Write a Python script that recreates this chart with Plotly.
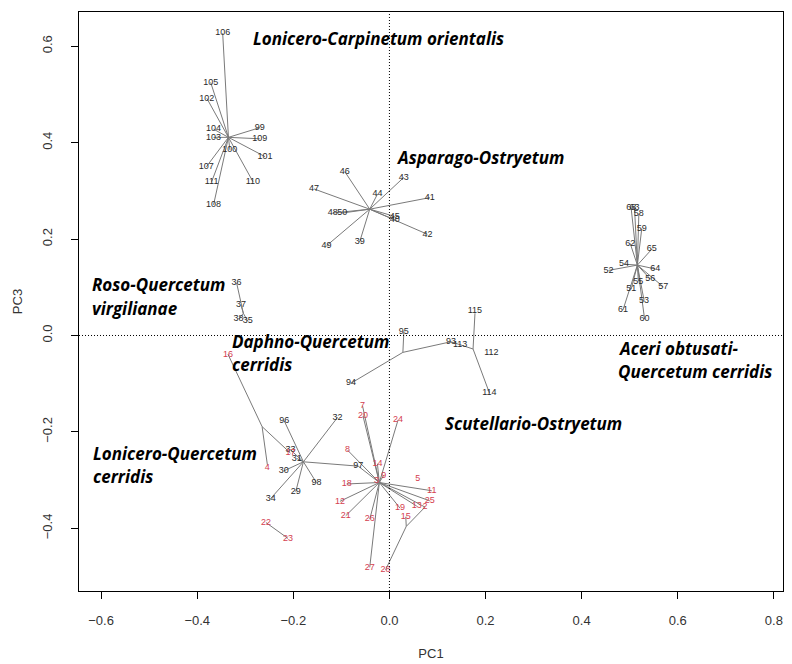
import plotly.graph_objects as go

# ---------------- data ----------------
# Lonicero-Carpinetum orientalis (black spider)
g1_center = (-0.335, 0.411)
g1_labels = ["106", "105", "102", "104", "103", "99", "109", "100", "101", "107", "111", "110", "108"]
g1_x = [-0.347, -0.372, -0.380, -0.366, -0.366, -0.270, -0.270, -0.332, -0.259, -0.381, -0.370, -0.284, -0.366]
g1_y = [0.627, 0.525, 0.492, 0.428, 0.411, 0.431, 0.408, 0.385, 0.371, 0.350, 0.319, 0.319, 0.271]

# Asparago-Ostryetum
g2_center = (-0.041, 0.262)
g2_labels = ["46", "43", "47", "44", "41", "48", "50", "45", "40", "42", "49", "39"]
g2_x = [-0.093, 0.030, -0.157, -0.025, 0.084, -0.118, -0.098, 0.011, 0.011, 0.079, -0.131, -0.062]
g2_y = [0.340, 0.328, 0.304, 0.293, 0.286, 0.254, 0.254, 0.247, 0.240, 0.210, 0.186, 0.194]

# Aceri obtusati-Quercetum cerridis
g3_center = (0.516, 0.146)
g3_labels = ["68", "63", "58", "59", "62", "65", "54", "52", "64", "56", "55", "57", "51", "53", "61", "60"]
g3_x = [0.503, 0.510, 0.519, 0.525, 0.501, 0.546, 0.488, 0.456, 0.553, 0.543, 0.518, 0.570, 0.503, 0.530, 0.486, 0.531]
g3_y = [0.264, 0.266, 0.252, 0.221, 0.191, 0.179, 0.148, 0.135, 0.138, 0.117, 0.112, 0.101, 0.096, 0.072, 0.053, 0.034]

# Roso-Quercetum virgilianae
g4_center = (-0.304, 0.046)
g4_labels = ["36", "37", "38", "35"]
g4_x = [-0.318, -0.309, -0.314, -0.295]
g4_y = [0.109, 0.063, 0.034, 0.030]

# Lonicero-Quercetum cerridis (black)
g6_center = (-0.179, -0.262)
g6_labels = ["96", "33", "31", "30", "98", "29", "34", "32", "97"]
g6_x = [-0.219, -0.206, -0.193, -0.220, -0.152, -0.195, -0.247, -0.108, -0.065]
g6_y = [-0.177, -0.237, -0.255, -0.281, -0.305, -0.324, -0.338, -0.170, -0.271]

# red group spokes
r_center = (-0.021, -0.305)
r_labels = ["7", "20", "24", "8", "14", "9", "18", "12", "21", "26", "27", "19", "13", "2", "11", "25"]
r_x = [-0.056, -0.055, 0.018, -0.087, -0.025, -0.012, -0.089, -0.103, -0.091, -0.041, -0.041, 0.022, 0.057, 0.074, 0.088, 0.084]
r_y = [-0.146, -0.167, -0.175, -0.238, -0.266, -0.290, -0.308, -0.344, -0.374, -0.381, -0.481, -0.358, -0.354, -0.356, -0.322, -0.343]

# red labels without spoke
r2_labels = ["5", "3", "28", "15", "4", "16", "22", "23", "17"]
r2_x = [0.059, -0.027, -0.008, 0.034, -0.254, -0.336, -0.257, -0.211, -0.206]
r2_y = [-0.298, -0.302, -0.486, -0.376, -0.275, -0.039, -0.388, -0.421, -0.244]

# black tree (Scutellario-Ostryetum)
t_labels = ["94", "95", "93", "113", "115", "112", "114"]
t_x = [-0.080, 0.030, 0.128, 0.147, 0.178, 0.212, 0.208]
t_y = [-0.099, 0.008, -0.013, -0.020, 0.052, -0.035, -0.119]

# extra tree segments (x0, y0, x1, y1)
seg_x0 = [-0.080, 0.028, 0.028, 0.128, 0.174, 0.174, -0.336, -0.265, -0.265, -0.257, -0.008, 0.035, 0.035, -0.065]
seg_y0 = [-0.099, -0.035, -0.035, -0.013, -0.028, -0.028, -0.039, -0.189, -0.189, -0.388, -0.486, -0.396, -0.396, -0.271]
seg_x1 = [0.028, 0.030, 0.128, 0.174, 0.178, 0.208, -0.265, -0.254, -0.206, -0.211, 0.035, 0.074, 0.034, -0.021]
seg_y1 = [-0.035, 0.008, -0.013, -0.028, 0.046, -0.119, -0.189, -0.268, -0.244, -0.421, -0.396, -0.356, -0.376, -0.305]

# community names
names = ["Lonicero-Carpinetum orientalis", "Asparago-Ostryetum", "Roso-Quercetum", "virgilianae",
         "Daphno-Quercetum", "cerridis", "Aceri obtusati-", "Quercetum cerridis",
         "Scutellario-Ostryetum", "Lonicero-Quercetum", "cerridis"]
names_x = [-0.2875, 0.0104, -0.623, -0.623, -0.331, -0.331, 0.471, 0.471, 0.1125, -0.621, -0.621]
names_y = [0.617, 0.369, 0.105, 0.057, -0.013, -0.061, -0.028, -0.075, -0.183, -0.244, -0.293]

x_ticks = [-0.6, -0.4, -0.2, 0.0, 0.2, 0.4, 0.6, 0.8]
y_ticks = [-0.4, -0.2, 0.0, 0.2, 0.4, 0.6]

LINE = "#7a7a7a"
BLACK_TXT = "#2a2a2a"
RED_TXT = "#d4404f"

fig = go.Figure()

# spokes
sx, sy = [], []
for c, xs, ys in [(g1_center, g1_x, g1_y), (g2_center, g2_x, g2_y), (g3_center, g3_x, g3_y),
                  (g4_center, g4_x, g4_y), (g6_center, g6_x, g6_y), (r_center, r_x, r_y)]:
    for px, py in zip(xs, ys):
        sx += [c[0], px, None]
        sy += [c[1], py, None]
for a, b, c2, d in zip(seg_x0, seg_y0, seg_x1, seg_y1):
    sx += [a, c2, None]
    sy += [b, d, None]
fig.add_trace(go.Scatter(x=sx, y=sy, mode="lines", line=dict(color=LINE, width=1),
                         hoverinfo="skip", showlegend=False))

# labels
def add_labels(xs, ys, labels, color):
    fig.add_trace(go.Scatter(x=xs, y=ys, mode="text", text=labels, textposition="middle center",
                             textfont=dict(family="Liberation Sans, Arial", size=9, color=color),
                             showlegend=False, hoverinfo="skip"))

add_labels(g1_x, g1_y, g1_labels, BLACK_TXT)
add_labels(g2_x, g2_y, g2_labels, BLACK_TXT)
add_labels(g3_x, g3_y, g3_labels, BLACK_TXT)
add_labels(g4_x, g4_y, g4_labels, BLACK_TXT)
add_labels(g6_x, g6_y, g6_labels, BLACK_TXT)
add_labels(t_x, t_y, t_labels, BLACK_TXT)
add_labels(r_x, r_y, r_labels, RED_TXT)
add_labels(r2_x, r2_y, r2_labels, RED_TXT)

# community names
for t, x, y in zip(names, names_x, names_y):
    fig.add_annotation(x=x, y=y, text="<b><i>" + t + "</i></b>", showarrow=False,
                       xanchor="left", yanchor="middle",
                       font=dict(family="Open Sans, Arial", size=17, color="#000000"))

# dotted zero lines
fig.add_shape(type="line", x0=0, x1=0, y0=0, y1=1, xref="x", yref="paper",
              line=dict(color="black", width=1, dash="1px,2px"))
fig.add_shape(type="line", x0=0, x1=1, y0=0, y1=0, xref="paper", yref="y",
              line=dict(color="black", width=1, dash="1px,2px"))

axis_font = dict(family="Liberation Sans, Arial", size=13, color="#333333")
# page body has an 8px default margin, so margins are offset to place the plot box
fig.update_layout(
    width=792, height=664,
    margin=dict(l=71, r=17, t=4, b=81, autoexpand=False),
    paper_bgcolor="white", plot_bgcolor="white",
    xaxis=dict(range=[-0.646, 0.819], tickvals=x_ticks, ticktext=[f"{v:.1f}".replace("-", "\u2212") for v in x_ticks],
               showgrid=False, zeroline=False, showline=True, linecolor="black", linewidth=1, mirror=True,
               ticks="outside", ticklen=7, tickcolor="black", tickfont=axis_font, ticklabelstandoff=10,
               automargin=False,
               title=dict(text="PC1", font=axis_font, standoff=22)),
    yaxis=dict(range=[-0.530, 0.671], tickvals=y_ticks, ticktext=[f"{v:.1f}".replace("-", "\u2212") for v in y_ticks],
               showgrid=False, zeroline=False, showline=True, linecolor="black", linewidth=1, mirror=True,
               ticks="outside", ticklen=7, tickcolor="black", tickfont=axis_font, tickangle=-90,
               ticklabelstandoff=14, automargin=False,
               title=dict(text="PC3", font=axis_font, standoff=14)),
)

fig.write_html("out.html")
